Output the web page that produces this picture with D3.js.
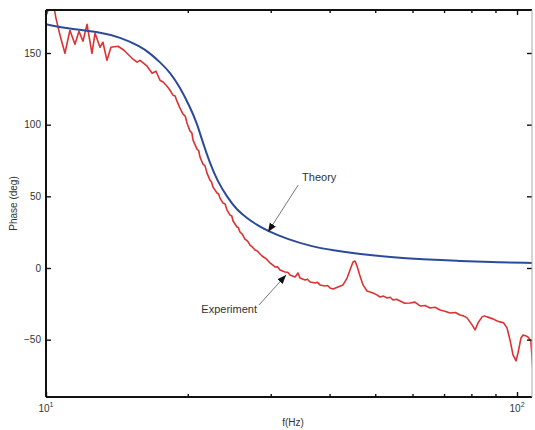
<!DOCTYPE html>
<html>
<head>
<meta charset="utf-8">
<script src="https://cdn.jsdelivr.net/npm/d3@7"></script>
<style>
    body { margin: 0; background: #fff; }
    svg text { font-family: "Liberation Sans", Arial, sans-serif; fill: #333; }
</style>
</head>
<body>
<div id="chart"></div>
<script>
// experiment: frequency (Hz) and phase (deg)
const expFreq = [10.00, 10.20, 10.35, 10.50, 10.71, 10.97, 11.24, 11.52, 11.75, 11.98,
    12.22, 12.52, 12.71, 13.02, 13.21, 13.47, 13.74, 14.22, 14.64, 14.86,
    15.23, 15.61, 15.84, 16.39, 16.80, 17.12, 17.46, 17.75, 18.07, 18.34,
    18.60, 18.80, 18.97, 19.25, 19.54, 19.75, 19.93, 20.22, 20.40, 20.52,
    20.92, 21.10, 21.23, 21.54, 21.75, 21.97, 22.29, 22.45, 22.63, 23.07,
    23.25, 23.41, 23.76, 24.00, 24.23, 24.59, 24.80, 24.95, 25.44, 25.60,
    25.81, 26.10, 26.45, 26.80, 27.11, 27.40, 27.78, 28.10, 28.47, 28.80,
    29.17, 29.50, 29.90, 30.64, 31.00, 31.40, 32.17, 32.60, 32.97, 33.79,
    34.28, 34.62, 35.48, 35.90, 36.36, 37.26, 37.70, 38.17, 39.12, 39.60,
    40.09, 40.68, 41.69, 42.72, 43.57, 44.20, 44.85, 45.30, 45.74, 46.42,
    47.10, 48.03, 49.47, 50.30, 51.19, 52.10, 52.97, 53.80, 54.55, 55.50,
    56.45, 57.80, 59.28, 60.70, 62.26, 63.80, 65.38, 67.00, 68.65, 70.30,
    72.09, 74.00, 75.68, 77.00, 78.32, 80.27, 81.46, 82.66, 84.29, 85.30,
    86.38, 87.60, 88.94, 90.50, 92.03, 93.60, 95.23, 96.63, 98.06, 99.52,
    100.5, 101.97, 102.97, 104.2, 105.5, 107.0, 108.0, 109.2];
const expPhase = [176.3, 183.3, 185.4, 174.2, 162.4, 149.8, 165.9, 156.1, 165.2, 158.2,
    170.0, 149.8, 163.8, 154.0, 157.5, 144.9, 154.0, 154.7, 151.9, 149.8,
    146.3, 143.6, 144.9, 140.8, 135.9, 137.3, 131.0, 129.6, 126.8, 124.0,
    120.6, 120.0, 116.4, 111.5, 107.3, 106.0, 101.0, 95.5, 94.3, 89.2,
    82.9, 81.8, 77.4, 72.5, 71.4, 66.2, 61.3, 60.2, 56.4, 52.3,
    51.6, 48.8, 45.3, 44.6, 40.4, 36.9, 36.3, 32.8, 28.6, 28.2,
    25.1, 23.6, 20.2, 18.7, 16.0, 14.8, 12.5, 11.9, 9.8, 8.2,
    7.0, 5.6, 3.5, 0.7, 0.9, -1.4, -2.8, -3.0, -4.9, -6.3,
    -3.5, -7.0, -8.4, -7.8, -9.8, -10.5, -10.0, -11.8, -12.5, -12.2,
    -13.9, -14.6, -13.2, -11.8, -7.0, -1.4, 4.2, 4.9, 1.4, -5.6,
    -11.8, -16.0, -17.4, -18.6, -20.2, -19.6, -20.9, -20.4, -22.3, -21.8,
    -23.0, -24.6, -24.4, -23.8, -26.5, -26.2, -27.9, -27.4, -29.3, -30.2,
    -31.4, -31.0, -32.8, -33.4, -34.8, -39.7, -43.2, -38.3, -34.1, -33.4,
    -34.1, -34.8, -35.5, -36.8, -37.6, -38.2, -41.8, -50.2, -60.6, -64.8,
    -59.2, -48.8, -46.7, -47.2, -48.1, -50.9, -70.0, -88.0];

// theory curve
const thFreq = [10.00, 11.41, 13.02, 14.36, 15.84, 16.63, 17.46, 18.34, 19.25, 20.22,
    20.92, 21.54, 22.29, 23.07, 24.23, 25.44, 26.72, 28.05, 29.60, 32.49,
    36.36, 40.68, 46.42, 53.75, 63.16, 74.57, 87.67, 107.6];
const thPhase = [170.0, 166.6, 164.5, 161.0, 154.7, 149.8, 143.6, 136.6, 126.1, 112.2,
    101.0, 87.1, 73.2, 61.3, 49.5, 40.4, 34.8, 30.0, 25.8, 20.2,
    15.3, 12.3, 9.6, 7.6, 6.1, 5.0, 4.2, 3.5];

const yTicks = [-50, 0, 50, 100, 150];
const xMajor = [10, 100];
const xMinor = [20, 30, 40, 50, 60, 70, 80, 90];

const notes = [
    { label: 'Theory', tx: 34.97, ty: 60.6, anchor: 'start', x0: 34.3, y0: 57.8, x1: 29.6, y1: 25.1 },
    { label: 'Experiment', tx: 28.05, ty: -31.4, anchor: 'end', x0: 28.33, y0: -25.8, x1: 32.33, y1: -4.9 }
];

const margin = { top: 10, right: 3, bottom: 33, left: 46 },
    width = 535 - margin.left - margin.right,
    height = 430 - margin.top - margin.bottom;

const svg = d3.select('#chart').append('svg')
    .attr('width', 535)
    .attr('height', 430);

const g = svg.append('g')
    .attr('transform', `translate(${margin.left},${margin.top})`);

const x = d3.scaleLog().domain([10, 107.6]).range([0, width]);
const y = d3.scaleLinear().domain([-90, 180]).range([height, 0]);

svg.append('defs').append('clipPath').attr('id', 'clip')
    .append('rect').attr('width', width).attr('height', height);

svg.select('defs').append('marker')
    .attr('id', 'arrow')
    .attr('viewBox', '0 0 10 10')
    .attr('refX', 10).attr('refY', 5)
    .attr('markerWidth', 9).attr('markerHeight', 9)
    .attr('markerUnits', 'userSpaceOnUse')
    .attr('orient', 'auto')
    .append('path')
    .attr('d', 'M0,1 L10,5 L0,9 Z')
    .attr('fill', '#111');

const expLine = d3.line().x(d => x(d[0])).y(d => y(d[1]));
const thLine = d3.line().x(d => x(d[0])).y(d => y(d[1])).curve(d3.curveBasis);

const plot = g.append('g').attr('clip-path', 'url(#clip)');

plot.append('path')
    .datum(d3.zip(expFreq, expPhase))
    .attr('d', expLine)
    .attr('fill', 'none')
    .attr('stroke', '#db3232')
    .attr('stroke-width', 1.6)
    .attr('stroke-linejoin', 'round');

plot.append('path')
    .datum(d3.zip(thFreq, thPhase))
    .attr('d', thLine)
    .attr('fill', 'none')
    .attr('stroke', '#2c4a9a')
    .attr('stroke-width', 2);

// axes: ticks point inwards, mirrored on top and right
const yLeft = g.append('g')
    .call(d3.axisLeft(y).tickValues(yTicks).tickSize(-5).tickPadding(5));
g.append('g')
    .attr('transform', `translate(${width},0)`)
    .call(d3.axisRight(y).tickValues(yTicks).tickSize(-5).tickFormat(''));

g.append('g')
    .attr('transform', `translate(0,${height})`)
    .call(d3.axisBottom(x).tickValues(xMajor).tickSize(-5).tickFormat(''));
g.append('g')
    .attr('transform', `translate(0,${height})`)
    .call(d3.axisBottom(x).tickValues(xMinor).tickSize(-3).tickFormat(''));
g.append('g')
    .call(d3.axisTop(x).tickValues(xMajor).tickSize(-5).tickFormat(''));
g.append('g')
    .call(d3.axisTop(x).tickValues(xMinor).tickSize(-3).tickFormat(''));

g.selectAll('.domain').remove();
g.selectAll('.tick line').attr('stroke', '#111').attr('stroke-width', 1.4);
yLeft.selectAll('text').style('font-size', '10px').attr('fill', '#333');

// box
g.append('line').attr('x1', 0).attr('x2', 0).attr('y1', 0).attr('y2', height)
    .attr('stroke', '#111').attr('stroke-width', 2);
g.append('line').attr('x1', 0).attr('x2', width).attr('y1', height).attr('y2', height)
    .attr('stroke', '#111').attr('stroke-width', 2);
g.append('line').attr('x1', 0).attr('x2', width).attr('y1', 0).attr('y2', 0)
    .attr('stroke', '#111').attr('stroke-width', 2);
g.append('line').attr('x1', width).attr('x2', width).attr('y1', 0).attr('y2', height)
    .attr('stroke', '#aaa').attr('stroke-width', 1);

// 10^n labels
const decade = g.selectAll('.decade')
    .data(xMajor)
    .enter()
    .append('text')
    .attr('class', 'decade')
    .attr('x', d => x(d))
    .attr('y', height + 15)
    .attr('text-anchor', 'middle')
    .style('font-size', '10px');
decade.append('tspan').text('10');
decade.append('tspan')
    .attr('dy', -5)
    .style('font-size', '7px')
    .text(d => Math.round(Math.log10(d)));

g.append('text')
    .attr('x', width / 2 + 4)
    .attr('y', height + 29)
    .attr('text-anchor', 'middle')
    .style('font-size', '10px')
    .text('f(Hz)');

g.append('text')
    .attr('transform', `translate(-29,${height / 2}) rotate(-90)`)
    .attr('text-anchor', 'middle')
    .style('font-size', '10px')
    .text('Phase (deg)');

// annotations
notes.forEach(n => {
    g.append('line')
        .attr('x1', x(n.x0)).attr('y1', y(n.y0))
        .attr('x2', x(n.x1)).attr('y2', y(n.y1))
        .attr('stroke', '#777')
        .attr('stroke-width', 1)
        .attr('marker-end', 'url(#arrow)');
    g.append('text')
        .attr('x', x(n.tx))
        .attr('y', y(n.ty))
        .attr('text-anchor', n.anchor)
        .style('font-size', '11px')
        .text(n.label);
});
</script>
</body>
</html>
